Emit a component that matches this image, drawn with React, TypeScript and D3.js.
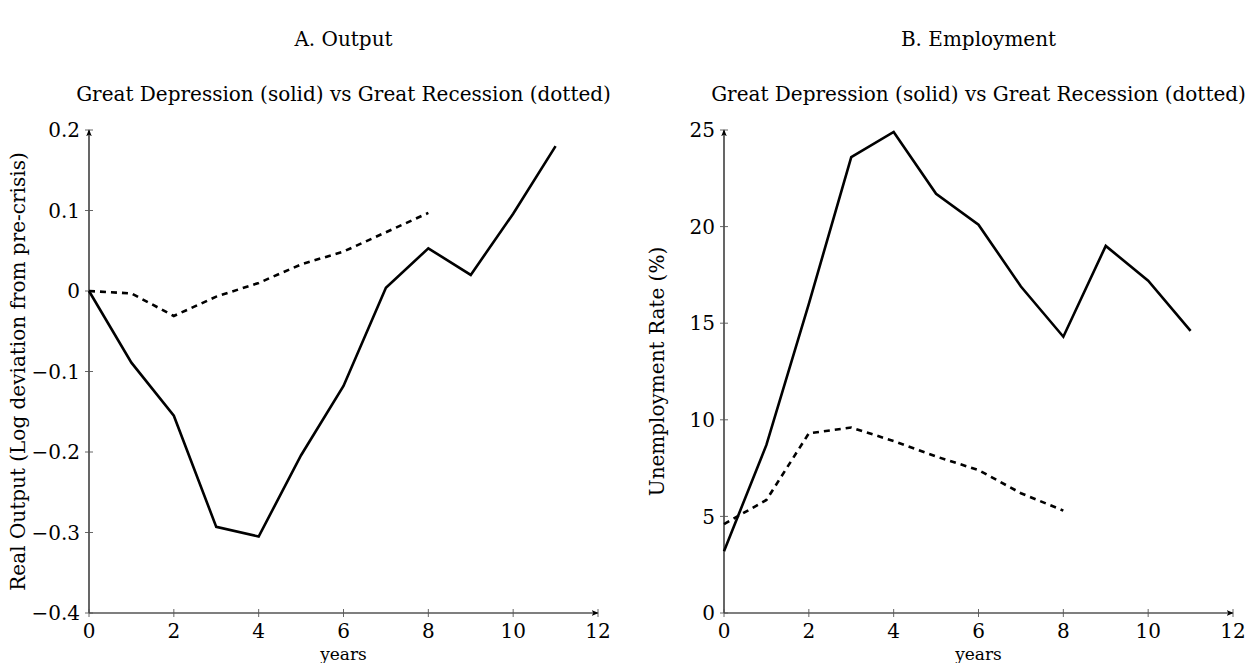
import React from "react";
import * as d3 from "d3";

const years = [0, 1, 2, 3, 4, 5, 6, 7, 8, 9, 10, 11];
const outputDepression = [0, -0.089, -0.155, -0.293, -0.305, -0.204, -0.118, 0.004, 0.053, 0.02, 0.096, 0.18];
const outputRecession = [0, -0.003, -0.031, -0.007, 0.01, 0.033, 0.049, 0.073, 0.097];
const unempDepression = [3.2, 8.7, 16.0, 23.6, 24.9, 21.7, 20.1, 16.9, 14.3, 19.0, 17.2, 14.6];
const unempRecession = [4.6, 5.85, 9.3, 9.6, 8.9, 8.1, 7.4, 6.2, 5.3];

const xTicks = [0, 2, 4, 6, 8, 10, 12];
const outputTicks = [-0.4, -0.3, -0.2, -0.1, 0, 0.1, 0.2];
const unempTicks = [0, 5, 10, 15, 20, 25];

const panelTitles = ["A. Output", "B. Employment"];
const subtitle = "Great Depression (solid) vs Great Recession (dotted)";
const yLabels = ["Real Output (Log deviation from pre-crisis)", "Unemployment Rate (%)"];
const xLabel = "years";

const FONT = "'DejaVu Serif', 'Liberation Serif', serif";
const FS = 20;

type PanelProps = {
  left: number;
  yDomain: [number, number];
  yTicks: number[];
  solid: number[];
  dashed: number[];
  title: string;
  yLabel: string;
  fmt: (v: number) => string;
  labelX: number;
};

const TOP = 130;
const BOTTOM = 613;
const WIDTH = 509;

function Panel({ left, yDomain, yTicks, solid, dashed, title, yLabel, fmt, labelX }: PanelProps) {
  const x = d3.scaleLinear().domain([0, 12]).range([left, left + WIDTH]);
  const y = d3.scaleLinear().domain(yDomain).range([BOTTOM, TOP]);
  const line = d3
    .line<number>()
    .x((_, i) => x(years[i]))
    .y((d) => y(d));
  const cx = left + WIDTH / 2;
  return (
    <g>
      <text x={cx} y={46} textAnchor="middle" fontFamily={FONT} fontSize={FS}>
        {title}
      </text>
      <text x={cx} y={101} textAnchor="middle" fontFamily={FONT} fontSize={FS}>
        {subtitle}
      </text>
      <line x1={x(0)} x2={x(12)} y1={BOTTOM} y2={BOTTOM} stroke="#000" strokeWidth={1.2} markerEnd="url(#arrow)" />
      <line x1={x(0)} x2={x(0)} y1={BOTTOM} y2={TOP} stroke="#000" strokeWidth={1.2} markerEnd="url(#arrow)" />
      {xTicks.map((t) => (
        <g key={"x" + t}>
          <line x1={x(t)} x2={x(t)} y1={BOTTOM - 4} y2={BOTTOM + 4} stroke="#555" strokeWidth={0.9} />
          <text x={x(t)} y={638} textAnchor="middle" fontFamily={FONT} fontSize={FS}>
            {t}
          </text>
        </g>
      ))}
      {yTicks.map((t) => (
        <g key={"y" + t}>
          <line x1={x(0) - 4} x2={x(0) + 4} y1={y(t)} y2={y(t)} stroke="#555" strokeWidth={0.9} />
          <text x={x(0) - 9} y={y(t)} dy="0.36em" textAnchor="end" fontFamily={FONT} fontSize={FS}>
            {fmt(t)}
          </text>
        </g>
      ))}
      <text x={cx} y={660} textAnchor="middle" fontFamily={FONT} fontSize={17}>
        {xLabel}
      </text>
      <text
        transform={`translate(${labelX},${(TOP + BOTTOM) / 2}) rotate(-90)`}
        textAnchor="middle"
        fontFamily={FONT}
        fontSize={FS}
      >
        {yLabel}
      </text>
      <path d={line(solid) || ""} fill="none" stroke="#000" strokeWidth={2.6} strokeLinejoin="miter" />
      <path d={line(dashed) || ""} fill="none" stroke="#000" strokeWidth={2.6} strokeDasharray="6 5" />
    </g>
  );
}

const fmtOut = (v: number) => {
  if (Math.abs(v) < 1e-9) return "0";
  const s = d3.format(".1f")(Math.abs(v));
  return (v < 0 ? "\u2212" : "") + s;
};

export default function App() {
  return (
    <svg width={1249} height={663} style={{ position: "absolute", left: 0, top: 0, background: "#fff" }}>
      <defs>
        <marker id="arrow" viewBox="0 0 10 10" refX="9" refY="5" markerWidth="7" markerHeight="7" markerUnits="userSpaceOnUse" orient="auto">
          <path d="M0,1 L10,5 L0,9 L2.5,5 Z" fill="#000" />
        </marker>
      </defs>
      <rect width={1249} height={663} fill="#fff" />
      <Panel
        left={89}
        yDomain={[-0.4, 0.2]}
        yTicks={outputTicks}
        solid={outputDepression}
        dashed={outputRecession}
        title={panelTitles[0]}
        yLabel={yLabels[0]}
        fmt={fmtOut}
        labelX={25}
      />
      <Panel
        left={724}
        yDomain={[0, 25]}
        yTicks={unempTicks}
        solid={unempDepression}
        dashed={unempRecession}
        title={panelTitles[1]}
        yLabel={yLabels[1]}
        fmt={(v) => String(v)}
        labelX={664}
      />
    </svg>
  );
}
